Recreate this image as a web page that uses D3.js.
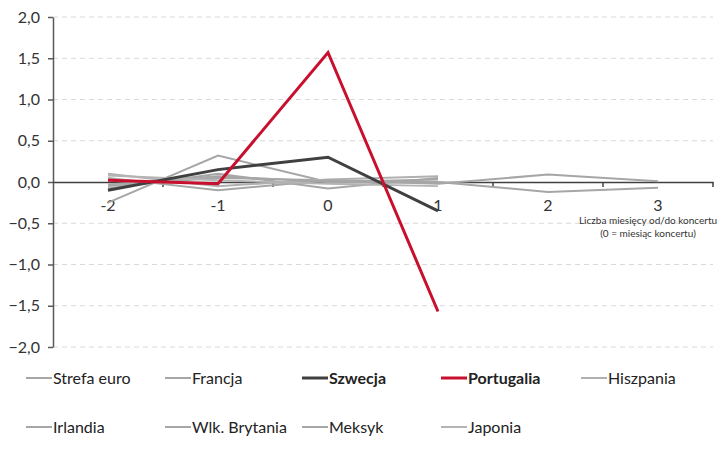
<!DOCTYPE html>
<html><head><meta charset="utf-8">
<script src="https://cdn.jsdelivr.net/npm/d3@7"></script>
<style>body{margin:0;background:#fff}svg{display:block}text{font-family:Lato,"Open Sans",sans-serif}</style>
</head><body><svg id="c" width="725" height="460"></svg>
<script>
const categories = ["-2","-1","0","1","2","3"];
const yTicks = [2,1.5,1,0.5,0,-0.5,-1,-1.5,-2];
const seriesNames = ["Strefa euro","Francja","Szwecja","Portugalia","Hiszpania","Irlandia","Wlk. Brytania","Meksyk","Japonia"];
const strefaEuro = [-0.05, 0.05, 0.02, 0.00];
const francja = [-0.25, 0.32, 0.00, 0.03];
const szwecja = [-0.10, 0.15, 0.30, -0.35];
const portugalia = [0.02, -0.02, 1.57, -1.57];
const hiszpania = [0.10, -0.05, 0.03, 0.07];
const irlandia = [-0.08, 0.10, -0.08, 0.05];
const wlkBrytania = [0.05, -0.10, 0.02, -0.02, 0.09, 0.01];
const meksyk = [-0.03, 0.07, 0.00, 0.00, -0.12, -0.07];
const japonia = [0.08, 0.02, -0.02, -0.05];
const values = [strefaEuro, francja, szwecja, portugalia, hiszpania, irlandia, wlkBrytania, meksyk, japonia];
const colors = ["#a6a6a6","#a6a6a6","#404040","#c8102e","#b0b0b0","#a6a6a6","#a6a6a6","#a6a6a6","#b4b4b4"];
const widths = [2,2,3,3,2,2,2,2,2];
const bold = [false,false,true,true,false,false,false,false,false];

const svg = d3.select("#c");
const x = d3.scaleBand().domain(categories).range([53, 713]).padding(0);
const y = d3.scaleLinear().domain([-2, 2]).range([347, 17]);
const fmt = d => d3.format(".1f")(d).replace(".", ",");

// gridlines
svg.append("g").selectAll("line").data(yTicks.filter(d => d !== 0)).join("line")
  .attr("x1", 53).attr("x2", 713).attr("y1", d => y(d)).attr("y2", d => y(d))
  .attr("stroke", "#d9d9d9").attr("stroke-width", 1).attr("stroke-dasharray", "5,4");

// y axis
const yAxis = svg.append("g").attr("transform", "translate(53,0)")
  .call(d3.axisLeft(y).tickValues(yTicks).tickFormat(fmt).tickSize(5).tickSizeOuter(0));
yAxis.select(".domain").attr("stroke", "#595959").attr("stroke-width", 1.5);
yAxis.selectAll(".tick line").attr("stroke", "#595959").attr("stroke-width", 1.5);
yAxis.selectAll(".tick text").attr("font-size", 16).attr("fill", "#333").attr("x", -13).attr("font-family", "Lato, sans-serif");

// x axis at zero
const xAxis = svg.append("g").attr("transform", `translate(0,${y(0)})`)
  .call(d3.axisBottom(x).tickSize(0).tickSizeOuter(0));
xAxis.select(".domain").attr("stroke", "#404040").attr("stroke-width", 1.5);
xAxis.selectAll(".tick text").attr("font-size", 16).attr("fill", "#333")
  .attr("y", 18).attr("dy", "0.71em").attr("font-family", "Lato, sans-serif");
// boundary tick marks
const bounds = categories.slice(1).map(c => x(c)).concat([x.range()[1]]);
svg.append("g").selectAll("line").data(bounds).join("line")
  .attr("x1", d => d).attr("x2", d => d).attr("y1", y(0)).attr("y2", y(0) + 5)
  .attr("stroke", "#404040").attr("stroke-width", 1.5);

// axis title
const at = svg.append("text").attr("text-anchor", "middle").attr("font-size", 10).attr("fill", "#333");
at.append("tspan").attr("x", 648).attr("y", 224).text("Liczba miesięcy od/do koncertu");
at.append("tspan").attr("x", 648).attr("y", 237).text("(0 = miesiąc koncertu)");

// lines
const line = d3.line().x((d, i) => x(categories[i]) + x.bandwidth() / 2).y(d => y(d));
const order = [0,1,4,5,6,7,8,2,3];
svg.append("g").selectAll("path").data(order).join("path")
  .attr("d", i => line(values[i])).attr("fill", "none")
  .attr("stroke", i => colors[i]).attr("stroke-width", i => widths[i])
  .attr("stroke-linejoin", "miter");

// legend
const legPos = [[26,378],[165,378],[302,378],[441,378],[581,378],[26,427],[165,427],[302,427],[441,427]];
const lg = svg.append("g").selectAll("g").data(seriesNames).join("g")
  .attr("transform", (d, i) => `translate(${legPos[i][0]},${legPos[i][1]})`);
lg.append("line").attr("x1", 0).attr("x2", 26).attr("y1", 0).attr("y2", 0)
  .attr("stroke", (d, i) => colors[i]).attr("stroke-width", (d, i) => widths[i]);
lg.append("text").attr("x", 27).attr("y", 0).attr("dy", "0.35em").attr("font-size", 16)
  .attr("fill", "#222").attr("font-weight", (d, i) => bold[i] ? "bold" : "normal").text(d => d);
</script></body></html>
